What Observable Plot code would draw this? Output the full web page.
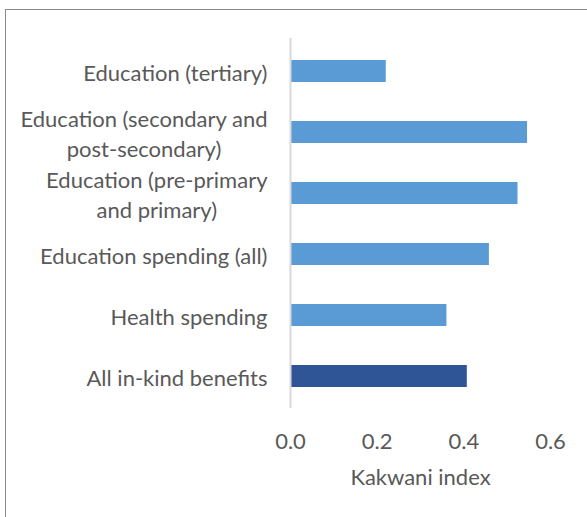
<!DOCTYPE html>
<html>
<head>
<meta charset="utf-8">
<script src="https://cdn.jsdelivr.net/npm/d3@7"></script>
<script src="https://cdn.jsdelivr.net/npm/@observablehq/plot@0.6"></script>
<style>
  body { margin: 0; background: #fff; overflow: hidden; }
  #wrap { position: relative; width: 587px; height: 517px; }
  #border { position: absolute; left: 4.5px; top: 9px; width: 640px; height: 560px;
            border-left: 1.5px solid #8a8a8a; border-top: 1.5px solid #8a8a8a; }
  #chart { position: absolute; left: 0; top: 0; }
</style>
</head>
<body>
<div id="wrap">
  <div id="border"></div>
  <div id="chart"></div>
</div>
<script>
// categories top to bottom
const categories = [
  "Education (tertiary)",
  "Education (secondary and post-secondary)",
  "Education (pre-primary and primary)",
  "Education spending (all)",
  "Health spending",
  "All in-kind benefits"
]
const tickLabels = [
  "Education (tertiary)",
  "Education (secondary and\npost-secondary)",
  "Education (pre-primary\nand primary)",
  "Education spending (all)",
  "Health spending",
  "All in-kind benefits"
]
const kakwani = [0.221, 0.547, 0.525, 0.459, 0.361, 0.408]
const isTotal = [false, false, false, false, false, true]

const data = categories.map((c, i) => ({category: c, value: kakwani[i], total: isTotal[i]}))
const labelOf = new Map(categories.map((c, i) => [c, tickLabels[i]]))

const chart = Plot.plot({
  width: 587,
  height: 517,
  marginLeft: 290,
  marginRight: 37,
  marginTop: 38,
  marginBottom: 109,
  style: {fontFamily: "Lato", color: "#595959", background: "transparent"},
  x: {domain: [0, 0.6]},
  y: {domain: categories, paddingInner: 0.643, paddingOuter: 0.32},
  marks: [
    Plot.barX(data, {
      x: "value",
      y: "category",
      fill: d => d.total ? "#2f5597" : "#5b9bd5"
    }),
    Plot.ruleX([0], {stroke: "#d9d9d9", strokeWidth: 2}),
    Plot.axisY({
      tickSize: 0,
      tickPadding: 23,
      fontSize: 22,
      lineHeight: 1.36,
      fill: "#595959",
      tickFormat: d => labelOf.get(d),
      label: null
    }),
    Plot.axisX({
      ticks: [0, 0.2, 0.4, 0.6],
      tickSize: 0,
      tickPadding: 25,
      fontSize: 22,
      fill: "#595959",
      tickFormat: d3.format(".1f"),
      label: "Kakwani index",
      labelAnchor: "center",
      labelArrow: "none",
      labelOffset: 76
    })
  ]
})

d3.select('#chart').append(() => chart)

// wrapped labels: lines centred on each other, block right-aligned (like Excel)
d3.select(chart).selectAll('g[aria-label="y-axis tick label"] text').each(function () {
  const spans = d3.select(this).selectAll('tspan')
  if (spans.size() < 2) return
  const w = d3.max(spans.nodes(), n => n.getComputedTextLength())
  d3.select(this).attr('text-anchor', 'middle')
  spans.attr('x', -w / 2)
})
</script>
</body>
</html>
